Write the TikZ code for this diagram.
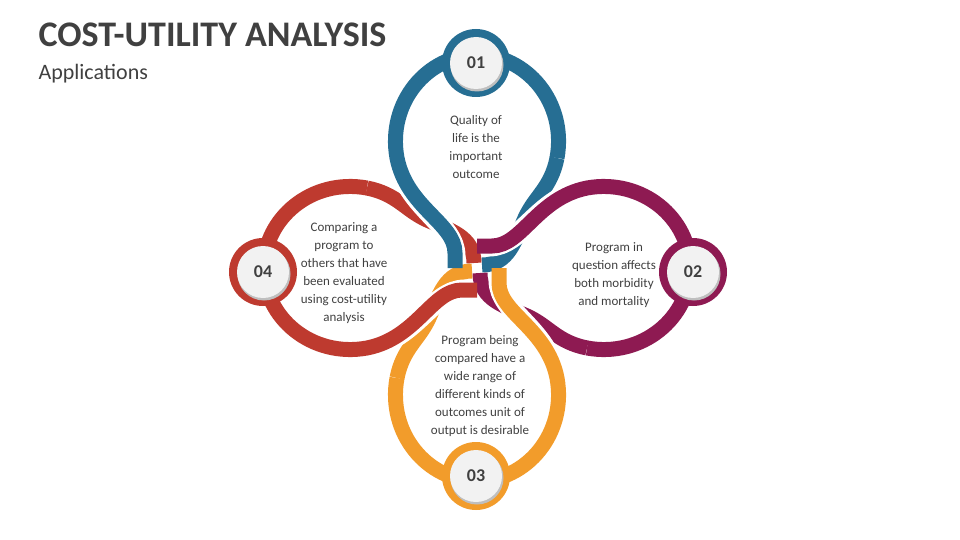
\documentclass[tikz,border=0pt]{standalone}
\usepackage{fontspec}
\setmainfont{Carlito}
\begin{document}
\begin{tikzpicture}[x=1pt,y=-1pt]
\definecolor{cblue}{HTML}{266E93}
\definecolor{cmag}{HTML}{8E1A52}
\definecolor{corg}{HTML}{F29C2B}
\definecolor{cred}{HTML}{BE3A2F}
\definecolor{txt}{HTML}{404040}
\tikzset{
 band/.style={line width=15pt},
 casing/.style={line width=21pt,white},
 body/.style={text=txt,font=\fontsize{13}{18}\selectfont,align=center},
 badgetxt/.style={text=txt,font=\fontsize{18}{20}\selectfont\bfseries},
}
\useasboundingbox (0,0) rectangle (960,540);
\def\tailpath{(80,-110) .. controls (74,-80) and (58,-72) .. (48,-50) .. controls (38,-28) and (32,-3) .. (5,-3)}
\def\headpath{(-22,-12) .. controls (-22,-45) and (-70,-60) .. (-80,-110)}
\def\mainpath{(-22,0) -- (-22,-15) .. controls (-22,-45) and (-70,-60) .. (-80,-110) .. controls (-90,-165) and (-50,-213) .. (0,-213) .. controls (50,-213) and (90,-165) .. (80,-110)}
% tails
\foreach \a/\c in {0/cblue,-90/cmag,-180/corg,-270/cred}{
 \begin{scope}[shift={(477,268)},rotate=\a]
  \draw[band,\c] \tailpath;
 \end{scope}}
% main parts with casing on the head crossing
\foreach \a/\c in {0/cblue,-90/cmag,-180/corg,-270/cred}{
 \begin{scope}[shift={(477,268)},rotate=\a]
  \draw[casing] \headpath;
  \draw[band,\c] \mainpath;
 \end{scope}}
% badges
\foreach \n/\x/\y/\c in {01/476/63/cblue,02/693/272/cmag,03/476/476/corg,04/263/272/cred}{
 \fill[\c] (\x,\y) circle (34);
 \fill[black!25] (\x+1,\y+2) circle (26.5);
 \fill[black!5] (\x,\y) circle (26);
 \node[badgetxt] (b\n) at (\x,\y) {\n};
}
\node[anchor=west,text=txt,font=\fontsize{36}{38}\selectfont\bfseries] (title) at (35,35) {COST-UTILITY ANALYSIS};
\node[anchor=west,text=txt,font=\fontsize{22}{26}\selectfont] (sub) at (35,74) {Applications};
\node[body] (t1) at (476,147) {Quality of\\life is the\\important\\outcome};
\node[body] (t2) at (614,275) {Program in\\question affects\\both morbidity\\and mortality};
\node[body] (t3) at (480,386) {Program being\\compared have a\\wide range of\\different kinds of\\outcomes unit of\\output is desirable};
\node[body] (t4) at (344,273) {Comparing a\\program to\\others that have\\been evaluated\\using cost-utility\\analysis};
\end{tikzpicture}
\end{document}
